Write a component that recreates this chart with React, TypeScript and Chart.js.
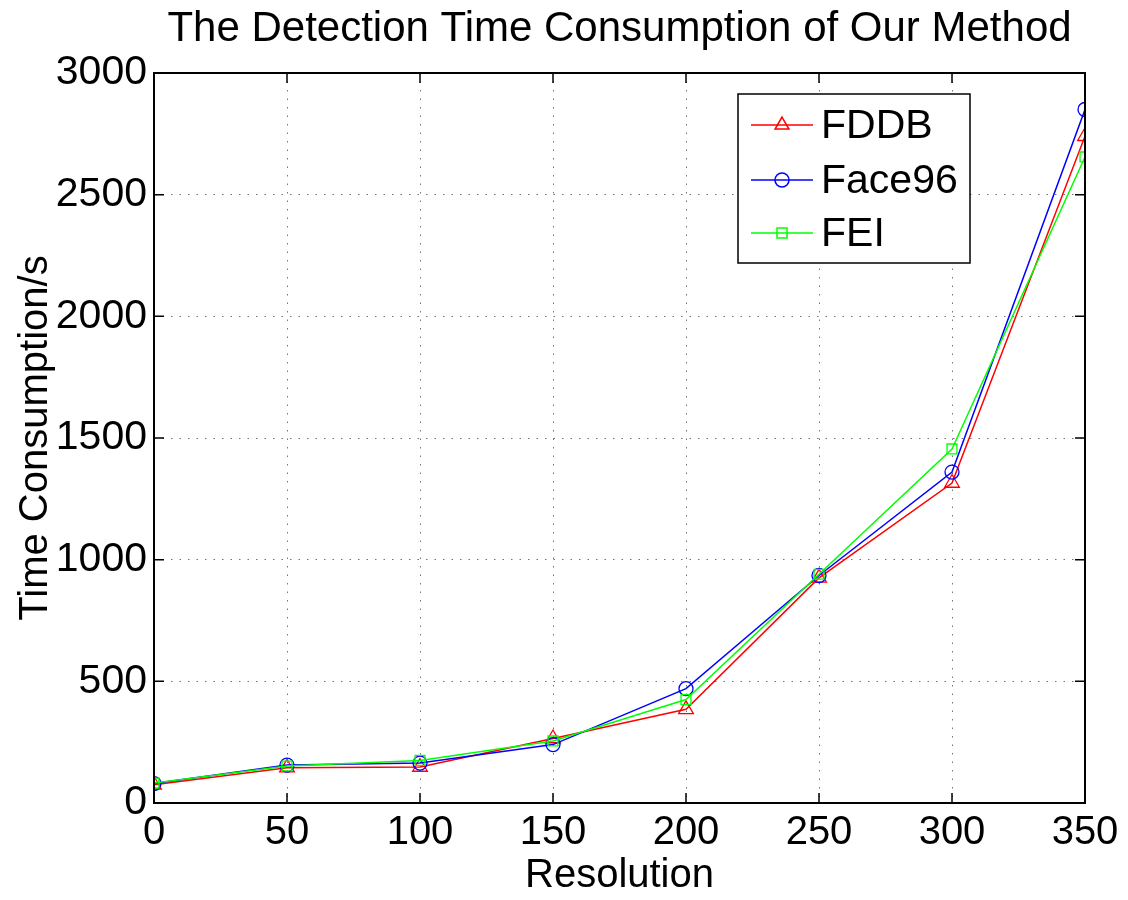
import { useEffect, useRef } from "react";
import { Chart, registerables } from "chart.js";

Chart.register(...registerables);

// Detection time (seconds) per input resolution for each dataset
const resolutions = [0, 50, 100, 150, 200, 250, 300, 350];
const fddbTimes = [75, 145, 148, 265, 385, 925, 1315, 2740];
const face96Times = [80, 156, 164, 240, 470, 935, 1360, 2850];
const feiTimes = [82, 152, 175, 255, 425, 940, 1455, 2655];

const seriesNames = ["FDDB", "Face96", "FEI"];
const seriesColors = ["#ff0000", "#0000ff", "#00ff00"];
const seriesMarkers = ["triangle", "circle", "rect"];

const xTickValues = [0, 50, 100, 150, 200, 250, 300, 350];
const yTickValues = [0, 500, 1000, 1500, 2000, 2500, 3000];

const FONT = "'Liberation Sans', Arial, Helvetica, sans-serif";

function drawMarker(ctx: CanvasRenderingContext2D, kind: string, x: number, y: number) {
  ctx.beginPath();
  if (kind === "triangle") {
    const r = 8;
    ctx.moveTo(x, y - r);
    ctx.lineTo(x + r * Math.cos(Math.PI / 6), y + r * 0.5);
    ctx.lineTo(x - r * Math.cos(Math.PI / 6), y + r * 0.5);
    ctx.closePath();
  } else if (kind === "circle") {
    ctx.arc(x, y, 7, 0, Math.PI * 2);
  } else {
    ctx.rect(x - 5, y - 5, 10, 10);
  }
  ctx.stroke();
}

// Axis box with inward ticks on all four sides, plus the boxed legend
const framePlugin = {
  id: "frameAndLegend",
  afterDatasetsDraw(chart: any) {
    const { ctx, chartArea } = chart;
    const { left, right, top, bottom } = chartArea;
    const xs = chart.scales.x;
    const ys = chart.scales.y;
    ctx.save();
    ctx.strokeStyle = "#000";
    ctx.lineWidth = 1.5;
    const tl = 10;
    ctx.beginPath();
    xTickValues.forEach((v) => {
      const px = xs.getPixelForValue(v);
      ctx.moveTo(px, bottom);
      ctx.lineTo(px, bottom - tl);
      ctx.moveTo(px, top);
      ctx.lineTo(px, top + tl);
    });
    yTickValues.forEach((v) => {
      const py = ys.getPixelForValue(v);
      ctx.moveTo(left, py);
      ctx.lineTo(left + tl, py);
      ctx.moveTo(right, py);
      ctx.lineTo(right - tl, py);
    });
    ctx.stroke();
    ctx.lineWidth = 2;
    ctx.strokeRect(left, top, right - left, bottom - top);

    // legend
    const lx = 738, ly = 94, lw = 232, lh = 169;
    ctx.fillStyle = "#fff";
    ctx.fillRect(lx, ly, lw, lh);
    ctx.lineWidth = 1.5;
    ctx.strokeStyle = "#000";
    ctx.strokeRect(lx, ly, lw, lh);
    const rows = [125, 180, 233];
    seriesNames.forEach((name, i) => {
      const ry = rows[i];
      ctx.strokeStyle = seriesColors[i];
      ctx.lineWidth = 1.5;
      ctx.beginPath();
      ctx.moveTo(751, ry);
      ctx.lineTo(813, ry);
      ctx.stroke();
      drawMarker(ctx, seriesMarkers[i], 782, ry);
      ctx.fillStyle = "#000";
      ctx.font = `41px ${FONT}`;
      ctx.textBaseline = "middle";
      ctx.textAlign = "left";
      ctx.fillText(name, 821, ry + 2);
    });
    ctx.restore();
  },
};

export default function App() {
  const canvasRef = useRef<HTMLCanvasElement | null>(null);

  useEffect(() => {
    const canvas = canvasRef.current;
    if (!canvas) return;
    const seriesValues = [fddbTimes, face96Times, feiTimes];
    const chart = new Chart(canvas, {
      type: "line",
      data: {
        datasets: seriesNames.map((name, i) => ({
          label: name,
          data: resolutions.map((r, k) => ({ x: r, y: seriesValues[i][k] })),
          borderColor: seriesColors[i],
          backgroundColor: "rgba(0,0,0,0)",
          pointBorderColor: seriesColors[i],
          pointBackgroundColor: "rgba(0,0,0,0)",
          pointStyle: seriesMarkers[i] as any,
          pointRadius: seriesMarkers[i] === "triangle" ? 8.5 : 7,
          pointBorderWidth: 1.3,
          borderWidth: 1.5,
          tension: 0,
          fill: false,
          order: 3 - i,
        })),
      },
      options: {
        animation: false,
        responsive: false,
        devicePixelRatio: 1,
        layout: { padding: { top: 0, right: 43, bottom: 0, left: 0 } },
        plugins: {
          legend: { display: false },
          tooltip: { enabled: false },
          title: {
            display: true,
            text: "The Detection Time Consumption of Our Method",
            color: "#000",
            fullSize: false,
            font: { family: FONT, size: 42, weight: "normal" },
            padding: { top: 4, bottom: 18.6 },
          },
        },
        scales: {
          x: {
            type: "linear",
            min: 0,
            max: 350,
            afterFit: (s: any) => {
              s.height = 97;
            },
            afterBuildTicks: (s: any) => {
              s.ticks = xTickValues.map((v) => ({ value: v }));
            },
            ticks: {
              color: "#000",
              font: { family: FONT, size: 40 },
              padding: 6,
              maxRotation: 0,
              callback: (v: any) => String(v),
            },
            grid: {
              drawTicks: false,
              color: "rgba(0,0,0,0.55)",
              lineWidth: 1,
            },
            border: { display: false, dash: [1.5, 7] },
            title: {
              display: true,
              text: "Resolution",
              color: "#000",
              font: { family: FONT, size: 40 },
              padding: { top: 0, bottom: 0 },
            },
          },
          y: {
            type: "linear",
            min: 0,
            max: 3000,
            afterFit: (s: any) => {
              s.width = 154;
            },
            afterBuildTicks: (s: any) => {
              s.ticks = yTickValues.map((v) => ({ value: v }));
            },
            ticks: {
              color: "#000",
              font: { family: FONT, size: 41 },
              padding: 7,
              callback: (v: any) => String(v),
            },
            grid: {
              drawTicks: false,
              color: "rgba(0,0,0,0.55)",
              lineWidth: 1,
            },
            border: { display: false, dash: [1.5, 7] },
            title: {
              display: true,
              text: "Time Consumption/s",
              color: "#000",
              font: { family: FONT, size: 40 },
              padding: { top: 12, bottom: 0 },
            },
          },
        },
      },
      plugins: [framePlugin],
    });
    return () => chart.destroy();
  }, []);

  return (
    <div style={{ position: "fixed", left: 0, top: 0, width: 1128, height: 900, background: "#fff" }}>
      <canvas ref={canvasRef} width={1128} height={900} />
    </div>
  );
}
